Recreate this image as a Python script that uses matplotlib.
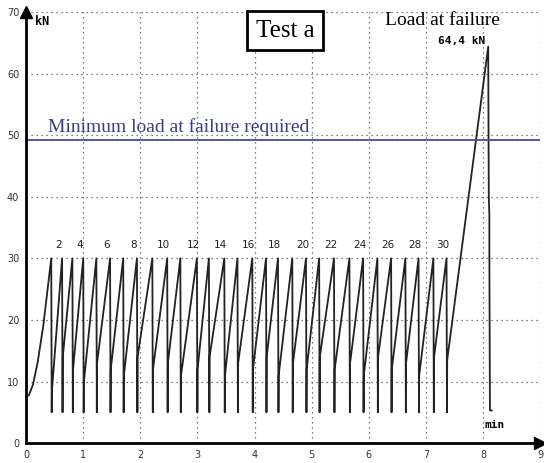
import numpy as np
import matplotlib.pyplot as plt

# peak times (min) of the 30 load cycles, all at 30 kN
peak_x = [0.44, 0.63, 0.81, 1.00, 1.23, 1.47, 1.70, 1.94, 2.21, 2.47,
          2.70, 2.99, 3.20, 3.47, 3.70, 3.96, 4.20, 4.41, 4.66, 4.90,
          5.13, 5.39, 5.66, 5.90, 6.15, 6.39, 6.64, 6.87, 7.13, 7.36]
peak_y = 30
trough_y = 5
# level where the slanted reload starts after each unload
knee_y = [8.5, 14, 12, 10, 13, 12, 11, 14, 12, 13, 11, 12, 14, 11, 13,
          12, 14, 11, 13, 12, 14, 12, 13, 11, 14, 12, 13, 11, 14, 13.5]

# first loading ramp
ramp_x = [0.0, 0.05, 0.12, 0.20, 0.30, 0.44]
ramp_y = [7.5, 7.8, 9.5, 13.0, 19.0, 30.0]

# final loading up to failure and the drop after it
fail_x = [8.09, 8.10, 8.11, 8.11, 8.12, 8.15]
fail_y = [64.4, 40.0, 37.0, 31.0, 5.3, 5.3]

label_cycles = [2, 4, 6, 8, 10, 12, 14, 16, 18, 20, 22, 24, 26, 28, 30]
min_required = 49.2

# build the path
xs = list(ramp_x)
ys = list(ramp_y)
for i, px in enumerate(peak_x):
    if i > 0:
        xs.append(px)
        ys.append(peak_y)
    xs += [px + 0.008, px + 0.012]
    ys += [trough_y, knee_y[i]]
xs += fail_x
ys += fail_y

fig = plt.figure(figsize=(5.44, 4.63), dpi=100)
ax = fig.add_axes([0.048, 0.043, 0.945, 0.931])

ax.plot(xs, ys, color='#222222', lw=1.3)
ax.axhline(min_required, color='#4a4a9c', lw=1.3)

ax.set_xlim(0, 9)
ax.set_ylim(0, 70)
ax.set_xticks(np.arange(0, 10, 1))
ax.set_yticks(np.arange(0, 80, 10))
ax.tick_params(length=0, labelsize=7, pad=5, colors='#333333')
ax.grid(True, linestyle=(0, (1, 3)), color='#555555', lw=0.9)
ax.set_axisbelow(True)
for s in ['top', 'right']:
    ax.spines[s].set_visible(False)
ax.spines['left'].set_linewidth(2)
ax.spines['bottom'].set_linewidth(2)

# axis arrows
ax.plot([0], [70], marker='^', color='black', ms=8, clip_on=False)
ax.plot([9], [0], marker='>', color='black', ms=8, clip_on=False)
ax.text(0.15, 69.5, 'kN', fontsize=8.5, fontweight='bold', va='top', family='DejaVu Sans Mono')
ax.text(8.2, 2.9, 'min', fontsize=8, fontweight='bold', ha='center', va='center',
        family='DejaVu Sans Mono')

# cycle numbers
for c in label_cycles:
    ax.text(peak_x[c - 1] - 0.06, 31.3, str(c), fontsize=7.5, ha='center', va='bottom',
            color='#222222')

ax.text(0.39, 49.8, 'Minimum load at failure required', family='Liberation Serif',
        fontsize=14, color='#3c3c8c', va='bottom')
ax.text(4.54, 67.0, 'Test a', family='Liberation Serif', fontsize=18, ha='center', va='center',
        bbox=dict(boxstyle='square,pad=0.35', fc='white', ec='black', lw=2))
ax.text(7.28, 68.6, 'Load at failure', family='Liberation Serif', fontsize=14,
        ha='center', va='center')
ax.text(7.62, 65.3, '64,4 kN', family='DejaVu Sans Mono', fontsize=8, fontweight='bold',
        ha='center', va='center')

fig.savefig('out.png', dpi=100)
